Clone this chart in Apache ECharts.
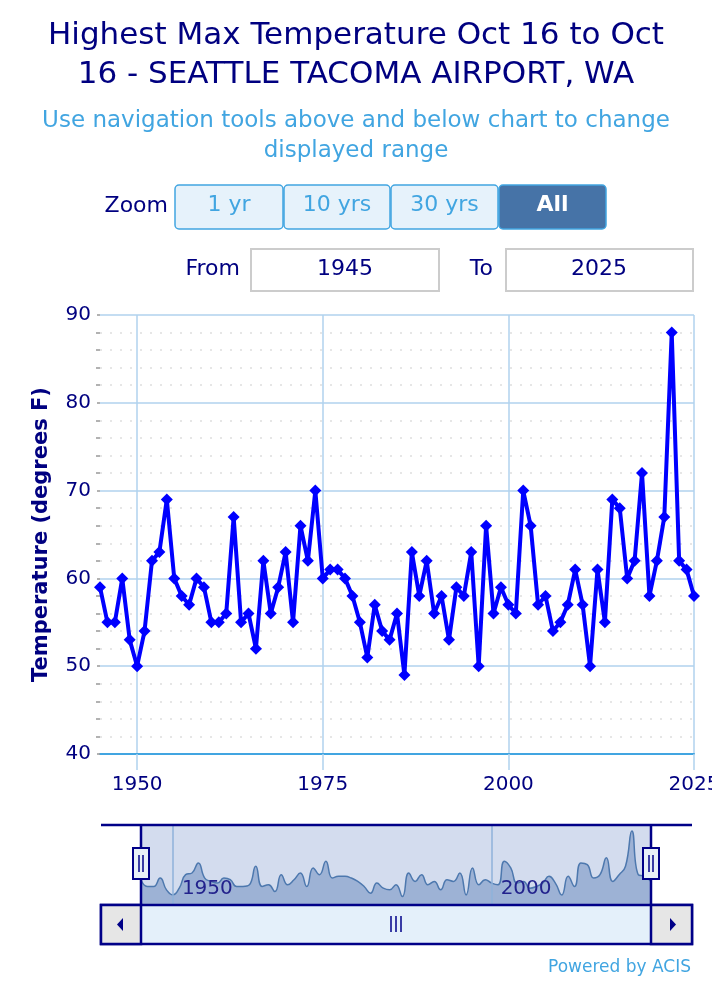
<!DOCTYPE html>
<html><head><meta charset="utf-8">
<script src="https://cdn.jsdelivr.net/npm/echarts@6/dist/echarts.min.js"></script>
<style>html,body{margin:0;padding:0;background:#fff}#c{width:712px;height:984px}</style>
</head><body><div id="c"></div>
<script>
// ---- data ----
const years = [1945,1946,1947,1948,1949,1950,1951,1952,1953,1954,
  1955,1956,1957,1958,1959,1960,1961,1962,1963,1964,
  1965,1966,1967,1968,1969,1970,1971,1972,1973,1974,
  1975,1976,1977,1978,1979,1980,1981,1982,1983,1984,
  1985,1986,1987,1988,1989,1990,1991,1992,1993,1994,
  1995,1996,1997,1998,1999,2000,2001,2002,2003,2004,
  2005,2006,2007,2008,2009,2010,2011,2012,2013,2014,
  2015,2016,2017,2018,2019,2020,2021,2022,2023,2024,2025];
const temps = [59,55,55,60,53,50,54,62,63,69,
  60,58,57,60,59,55,55,56,67,55,
  56,52,62,56,59,63,55,66,62,70,
  60,61,61,60,58,55,51,57,54,53,
  56,49,63,58,62,56,58,53,59,58,
  63,50,66,56,59,57,56,70,66,57,
  58,54,55,57,61,57,50,61,55,69,
  68,60,62,72,58,62,67,88,62,61,58];
const xTickValues = [1950,1975,2000,2025];
const navTickValues = [1950,2000];
const zoomButtons = ['1 yr','10 yrs','30 yrs','All'];
const fromYear = '1945';
const toYear = '2025';
const titleText = 'Highest Max Temperature Oct 16 to Oct\n16 - SEATTLE TACOMA AIRPORT, WA';
const subtitleText = 'Use navigation tools above and below chart to change\ndisplayed range';

// ---- styles ----
const FF = 'DejaVu Sans';
const NAVY = '#000080';
const LBLUE = '#41a5e1';
const DNAVY = '#000088';

const seriesData = years.map((y, i) => [y, temps[i]]);
const yearFmt = v => String(v);

const g = [];
g.push({type:'text', x:168, y:206, style:{text:'Zoom', fill:NAVY, fontSize:22, fontFamily:FF, align:'right', verticalAlign:'middle'}});
const btnX = [175,284,391,499], btnW = [108,106,107,107];
zoomButtons.forEach((lab, i) => {
  const sel = i === zoomButtons.length - 1;
  g.push({type:'rect', shape:{x:btnX[i], y:185, width:btnW[i], height:44, r:4},
    style:{fill: sel ? '#4673a7' : '#e6f2fb', stroke: LBLUE, lineWidth:1.5}});
  g.push({type:'text', x:btnX[i] + btnW[i]/2, y:205, style:{text:lab, fill: sel ? '#fff' : LBLUE,
    fontSize:22, fontFamily:FF, fontWeight: sel ? 'bold' : 'normal', align:'center', verticalAlign:'middle'}});
});
g.push({type:'text', x:240, y:269, style:{text:'From', fill:NAVY, fontSize:22, fontFamily:FF, align:'right', verticalAlign:'middle'}});
g.push({type:'rect', shape:{x:251, y:249, width:188, height:42}, style:{fill:'#fff', stroke:'#cccccc', lineWidth:2}});
g.push({type:'text', x:345, y:269, style:{text:fromYear, fill:NAVY, fontSize:22, fontFamily:FF, align:'center', verticalAlign:'middle'}});
g.push({type:'text', x:493, y:269, style:{text:'To', fill:NAVY, fontSize:22, fontFamily:FF, align:'right', verticalAlign:'middle'}});
g.push({type:'rect', shape:{x:506, y:249, width:187, height:42}, style:{fill:'#fff', stroke:'#cccccc', lineWidth:2}});
g.push({type:'text', x:599, y:269, style:{text:toYear, fill:NAVY, fontSize:22, fontFamily:FF, align:'center', verticalAlign:'middle'}});

// navigator outline
g.push({type:'line', z:100, shape:{x1:101, y1:825, x2:692, y2:825}, style:{stroke:DNAVY, lineWidth:2.5}});
g.push({type:'line', z:100, shape:{x1:141, y1:825, x2:141, y2:905}, style:{stroke:DNAVY, lineWidth:2.5}});
g.push({type:'line', z:100, shape:{x1:651, y1:825, x2:651, y2:905}, style:{stroke:DNAVY, lineWidth:2.5}});
// scrollbar
g.push({type:'rect', z:100, shape:{x:101, y:905, width:591, height:39}, style:{fill:'#e4f0fa', stroke:DNAVY, lineWidth:2.5}});
g.push({type:'rect', z:101, shape:{x:101, y:905, width:40, height:39}, style:{fill:'#e6e6e6', stroke:DNAVY, lineWidth:2.5}});
g.push({type:'rect', z:101, shape:{x:651, y:905, width:41, height:39}, style:{fill:'#e6e6e6', stroke:DNAVY, lineWidth:2.5}});
g.push({type:'polygon', z:102, shape:{points:[[123,918],[123,931],[117,924.5]]}, style:{fill:DNAVY}});
g.push({type:'polygon', z:102, shape:{points:[[670,918],[670,931],[676,924.5]]}, style:{fill:DNAVY}});
[391,396,401].forEach(x => g.push({type:'line', z:102, shape:{x1:x, y1:916, x2:x, y2:932}, style:{stroke:DNAVY, lineWidth:1.5}}));
// handles
[141, 651].forEach(cx => {
  g.push({type:'rect', z:103, shape:{x:cx-8, y:848, width:16, height:31}, style:{fill:'#e8f0f8', stroke:DNAVY, lineWidth:2}});
  g.push({type:'line', z:104, shape:{x1:cx-2, y1:855, x2:cx-2, y2:872}, style:{stroke:DNAVY, lineWidth:1.5}});
  g.push({type:'line', z:104, shape:{x1:cx+2, y1:855, x2:cx+2, y2:872}, style:{stroke:DNAVY, lineWidth:1.5}});
});
g.push({type:'text', x:691, y:968, style:{text:'Powered by ACIS', fill:LBLUE, fontSize:17, fontFamily:FF, align:'right', verticalAlign:'middle'}});

const chart = echarts.init(document.getElementById('c'), null, {renderer:'canvas'});
chart.setOption({
  animation:false,
  backgroundColor:'#fff',
  textStyle:{fontFamily:FF},
  title:[
    {text:titleText, left:'center', top:11, textStyle:{fontSize:31, fontWeight:'normal', color:NAVY, lineHeight:39, fontFamily:FF}},
    {text:subtitleText, left:'center', top:101, textStyle:{fontSize:23, fontWeight:'normal', color:LBLUE, lineHeight:30, fontFamily:FF}}
  ],
  grid:[
    {left:100, top:315, width:594, height:439, containLabel:false, outerBoundsMode:'none'},
    {left:141, top:825, width:510, height:80, show:true, backgroundColor:'#d3dcee', borderWidth:0, outerBoundsMode:'none'}
  ],
  xAxis:[
    {gridIndex:0, type:'value', min:1945, max:2025,
      axisLine:{show:true, lineStyle:{color:'#41a5e1', width:2}},
      axisTick:{show:true, customValues:xTickValues, length:16, lineStyle:{color:'#b0d2ee', width:1.5}},
      axisLabel:{customValues:xTickValues, formatter:yearFmt, color:NAVY, fontSize:20, margin:21, fontFamily:FF},
      splitLine:{show:true, lineStyle:{color:'#b0d2ee', width:1.5}}},
    {gridIndex:1, type:'value', min:1945, max:2025, z:5,
      axisLine:{show:false},
      axisTick:{show:false, customValues:navTickValues},
      axisLabel:{customValues:navTickValues, formatter:yearFmt, inside:true, align:'left', padding:[0,0,0,9], color:'#22228c', fontSize:20, margin:6, fontFamily:FF},
      splitLine:{show:true, lineStyle:{color:'#8fb2da', width:1.5}}}
  ],
  yAxis:[
    {gridIndex:0, type:'value', min:40, max:90, interval:10,
      axisLine:{show:false},
      axisTick:{show:true, length:3, lineStyle:{color:'#999', width:1.5}},
      minorTick:{show:true, splitNumber:5, length:4, lineStyle:{color:'#999', width:1.5}},
      splitLine:{show:true, lineStyle:{color:'#b0d2ee', width:1.5}},
      minorSplitLine:{show:true, lineStyle:{color:'#dedede', width:1.5, type:[2,8]}},
      axisLabel:{color:NAVY, fontSize:20, margin:9, fontFamily:FF},
      name:'Temperature (degrees F)', nameLocation:'middle', nameGap:48, nameRotate:90,
      nameTextStyle:{fontSize:21, fontWeight:'bold', color:NAVY, fontFamily:FF}},
    {gridIndex:1, type:'value', min:44, max:91.5, show:false, splitLine:{show:false}}
  ],
  series:[
    {type:'line', xAxisIndex:0, yAxisIndex:0, data:seriesData, clip:false,
      symbol:'diamond', symbolSize:12, showSymbol:true,
      lineStyle:{color:'#0000ff', width:4}, itemStyle:{color:'#0000ff'}, z:5},
    {type:'line', xAxisIndex:1, yAxisIndex:1, data:seriesData, smooth:0.5, showSymbol:false, symbol:'none',
      lineStyle:{color:'#4d78ae', width:1.5}, areaStyle:{color:'#9db2d5', opacity:1}, z:3}
  ],
  graphic:g
});
</script></body></html>
